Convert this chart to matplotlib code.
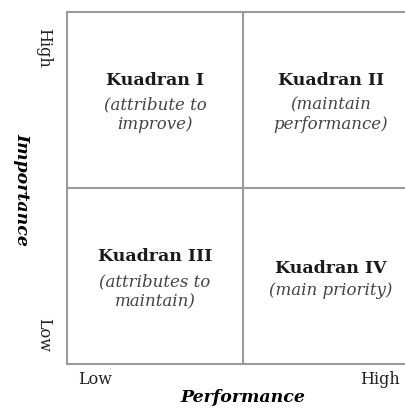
import matplotlib.pyplot as plt

titles = ["Kuadran I", "Kuadran II", "Kuadran III", "Kuadran IV"]
subtitles = ["(attribute to\nimprove)", "(maintain\nperformance)",
             "(attributes to\nmaintain)", "(main priority)"]
# quadrant centres in data units (x: performance, y: importance)
qx = [0.5, 1.5, 0.5, 1.5]
qy = [1.5, 1.5, 0.5, 0.5]
x_ticks = ["Low", "High"]
y_ticks = ["Low", "High"]

plt.rcParams['font.family'] = 'DejaVu Serif'

fig = plt.figure(figsize=(4.05, 4.14), dpi=100)
ax = fig.add_axes([67/405, 49/414, 352/405, 352/414])
ax.set_xlim(0, 2)
ax.set_ylim(0, 2)

line_col = '#9a9a9a'
for s in ax.spines.values():
    s.set_color(line_col)
    s.set_linewidth(1.5)
ax.axvline(1, color=line_col, lw=1.5)
ax.axhline(1, color=line_col, lw=1.5)

for i in range(4):
    two_lines = "\n" in subtitles[i]
    t_off = 0.115 if two_lines else 0.05
    s_off = -0.085 if i == 2 else -0.078
    ax.text(qx[i], qy[i] + t_off, titles[i], ha='center', va='center',
            fontsize=12.5, fontweight='bold', color='#1a1a1a')
    ax.text(qx[i], qy[i] + s_off, subtitles[i], ha='center', va='center',
            fontsize=12, style='italic', color='#444444', linespacing=1.25)

ax.set_xticks([0.16, 1.78])
ax.set_xticklabels(x_ticks, fontsize=11.5, color='#222222')
ax.set_yticks([0.17, 1.80])
ax.set_yticklabels(y_ticks, fontsize=11.5, rotation=-90, va='center', color='#222222')
ax.tick_params(length=0, pad=4)
ax.tick_params(axis='y', pad=11)

ax.set_xlabel("Performance", fontsize=12.5, fontweight='bold', style='italic', labelpad=1)
ax.set_ylabel("Importance", fontsize=12.5, fontweight='bold', style='italic',
              rotation=-90, labelpad=15)

fig.savefig("out.png", dpi=100)
